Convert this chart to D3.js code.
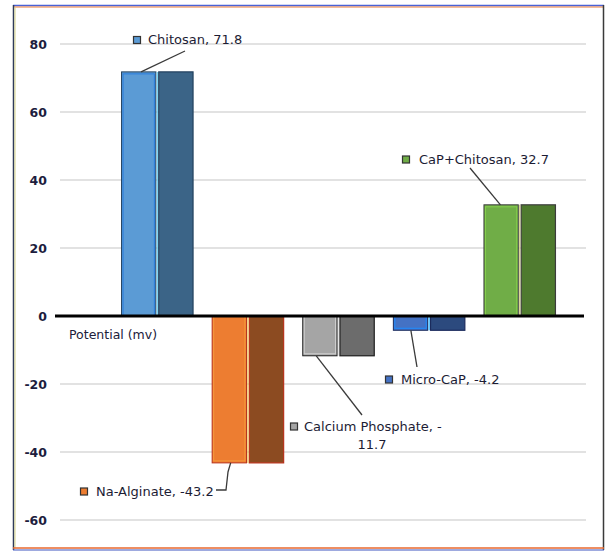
<!DOCTYPE html>
<html>
<head>
<meta charset="utf-8">
<script src="https://cdn.jsdelivr.net/npm/d3@7"></script>
<style>
  html, body { margin: 0; padding: 0; background: #fff; }
  svg { display: block; }
</style>
</head>
<body>
<script>
// Zeta potential per sample (mV)
const categories = ["Chitosan", "Na-Alginate", "Calcium Phosphate", "Micro-CaP", "CaP+Chitosan"];
const values = [71.8, -43.2, -11.7, -4.2, 32.7];
const yTicks = [-60, -40, -20, 0, 20, 40, 60, 80];
const axisTitle = "Potential (mv)";

// Fill / edge colours per sample: front face, side face, outline, inner edge, seam
const frontColors = ["#5b9bd5", "#ed7d31", "#a5a5a5", "#4472c4", "#70ad47"];
const sideColors  = ["#3b6487", "#8c4b21", "#6c6c6c", "#2c4a7e", "#4e7a2e"];
const edgeColors  = ["#22405e", "#b8321c", "#1c1c1c", "#1b2b5c", "#3c3c3c"];
const innerColors = ["#2b7ddc", "#f59a3e", "#cfcfcf", "#1e8cff", "#86cf4c"];
const seamColors  = ["#6fd0f0", "#f0c35a", "#e6e6e6", "#25b4ff", "#d6d08e"];

const W = 606, H = 552;
const svg = d3.select("body").append("svg").attr("width", W).attr("height", H);

// chart frame
svg.append("rect").attr("x", 0).attr("y", 0).attr("width", W).attr("height", H).attr("fill", "#fff");
svg.append("line").attr("x1", 13).attr("x2", 604).attr("y1", 5.5).attr("y2", 5.5).attr("stroke", "#4a62d6").attr("stroke-width", 1.5);
svg.append("line").attr("x1", 14).attr("x2", 603).attr("y1", 7).attr("y2", 7).attr("stroke", "#e97a3a").attr("stroke-width", 1.2);
svg.append("line").attr("x1", 13.5).attr("x2", 13.5).attr("y1", 5).attr("y2", 550).attr("stroke", "#2e3a5a").attr("stroke-width", 1.5);
svg.append("line").attr("x1", 15).attr("x2", 15).attr("y1", 7).attr("y2", 548).attr("stroke", "#d8d48a").attr("stroke-width", 1);
svg.append("line").attr("x1", 603.5).attr("x2", 603.5).attr("y1", 5).attr("y2", 550).attr("stroke", "#3a3a3a").attr("stroke-width", 1.5);
svg.append("line").attr("x1", 13).attr("x2", 604).attr("y1", 548).attr("y2", 548).attr("stroke", "#e9682e").attr("stroke-width", 1.5);
svg.append("line").attr("x1", 13).attr("x2", 604).attr("y1", 550).attr("y2", 550).attr("stroke", "#3e56c0").attr("stroke-width", 1.2);

// scales
const y = d3.scaleLinear().domain([-60, 80]).range([520, 44]);
const x = d3.scaleBand().domain(categories).range([112, 565]).paddingInner(0.2).paddingOuter(0.1);
const face = d3.scaleBand().domain(["front", "side"]).range([0, x.bandwidth()]).paddingInner(0.05);

// plain hyphen for negative numbers
const num = d => String(d);
const fmt1 = d => d.toFixed(1);

// gridlines + tick labels
const grid = svg.append("g");
grid.selectAll("line").data(yTicks.filter(t => t !== 0)).join("line")
  .attr("x1", 60).attr("x2", 586)
  .attr("y1", d => y(d)).attr("y2", d => y(d))
  .attr("stroke", "#d9d9d9").attr("stroke-width", 1.5);

const yAxis = d3.axisLeft(y).tickValues(yTicks).tickSize(0).tickPadding(0).tickFormat(num);
const axisG = svg.append("g").attr("transform", "translate(47,0)").call(yAxis);
axisG.select(".domain").remove();
axisG.selectAll("text")
  .attr("font-family", "DejaVu Sans, sans-serif")
  .attr("font-size", 12.5).attr("font-weight", "bold")
  .attr("fill", "#1d1d3e");

// bars: front face + side face per sample
const bars = svg.append("g").selectAll("g").data(categories).join("g")
  .attr("transform", d => `translate(${x(d)},0)`);

bars.each(function (c, i) {
  const g = d3.select(this);
  const v = values[i];
  const top = Math.min(y(v), y(0)), h = Math.abs(y(v) - y(0));
  const fx = face("front"), sx = face("side"), fw = face.bandwidth();
  g.append("rect").attr("x", fx + 0.5).attr("y", top).attr("width", fw - 1).attr("height", h)
    .attr("fill", frontColors[i]).attr("stroke", edgeColors[i]).attr("stroke-width", 1);
  g.append("rect").attr("x", fx + 2).attr("y", top + (v > 0 ? 2 : 0)).attr("width", fw - 4).attr("height", Math.max(0, h - 2))
    .attr("fill", "none").attr("stroke", innerColors[i]).attr("stroke-width", 1);
  g.append("rect").attr("x", sx + 0.5).attr("y", top).attr("width", fw - 1).attr("height", h)
    .attr("fill", sideColors[i]).attr("stroke", edgeColors[i]).attr("stroke-width", 1.2);
  g.append("line").attr("x1", (fx + fw + sx) / 2).attr("x2", (fx + fw + sx) / 2)
    .attr("y1", top).attr("y2", top + h)
    .attr("stroke", seamColors[i]).attr("stroke-width", 1.2);
});

// zero baseline
svg.append("line").attr("x1", 55).attr("x2", 584).attr("y1", y(0)).attr("y2", y(0))
  .attr("stroke", "#000").attr("stroke-width", 3);

// axis caption under the baseline
svg.append("text").attr("x", 69).attr("y", y(0) + 23)
  .attr("font-family", "DejaVu Sans, sans-serif").attr("font-size", 12.5)
  .attr("fill", "#20203a").text(axisTitle);

// data callouts: marker square, "name, value" text, leader line to bar end
const callouts = [
  { box: [133, 36], text: [148, 44], lines: null, from: [[185, 51]], anchorDx: 20 },
  { box: [80, 487.5], text: [96, 495.5], lines: null, from: [[216, 490], [226, 490], [228, 472]], anchorDx: 19 },
  { box: [290, 422.5], text: [304, 430.5], lines: [372, 448.5], from: [[362, 415]], anchorDx: 14 },
  { box: [385, 375.5], text: [401, 383.5], lines: null, from: [[417, 367]], anchorDx: 18 },
  { box: [402, 155.5], text: [419, 164], lines: null, from: [[470, 168]], anchorDx: 17 }
];

const labelFont = "DejaVu Sans, sans-serif";
const cg = svg.append("g");
callouts.forEach((c, i) => {
  const v = values[i];
  const endX = x(categories[i]) + face("front") + c.anchorDx;
  const endY = y(v);
  const pts = c.from.concat([[endX, endY]]);
  cg.append("path").attr("d", d3.line()(pts))
    .attr("fill", "none").attr("stroke", "#3a3a3a").attr("stroke-width", 1.3);
  cg.append("rect").attr("x", c.box[0] + 0.5).attr("y", c.box[1] + 0.5).attr("width", 7).attr("height", 7)
    .attr("fill", frontColors[i]).attr("stroke", "#333").attr("stroke-width", 1.2);
  if (c.lines) {
    // wrapped label: break after the minus sign
    const head = `${categories[i]}, ${v < 0 ? "-" : ""}`;
    const tail = fmt1(Math.abs(v));
    cg.append("text").attr("x", c.text[0]).attr("y", c.text[1])
      .attr("font-family", labelFont).attr("font-size", 13).attr("fill", "#1c1c34").text(head);
    cg.append("text").attr("x", c.lines[0]).attr("y", c.lines[1]).attr("text-anchor", "middle")
      .attr("font-family", labelFont).attr("font-size", 13).attr("fill", "#1c1c34").text(tail);
  } else {
    cg.append("text").attr("x", c.text[0]).attr("y", c.text[1])
      .attr("font-family", labelFont).attr("font-size", 13).attr("fill", "#1c1c34")
      .text(`${categories[i]}, ${fmt1(v)}`);
  }
});
</script>
</body>
</html>
